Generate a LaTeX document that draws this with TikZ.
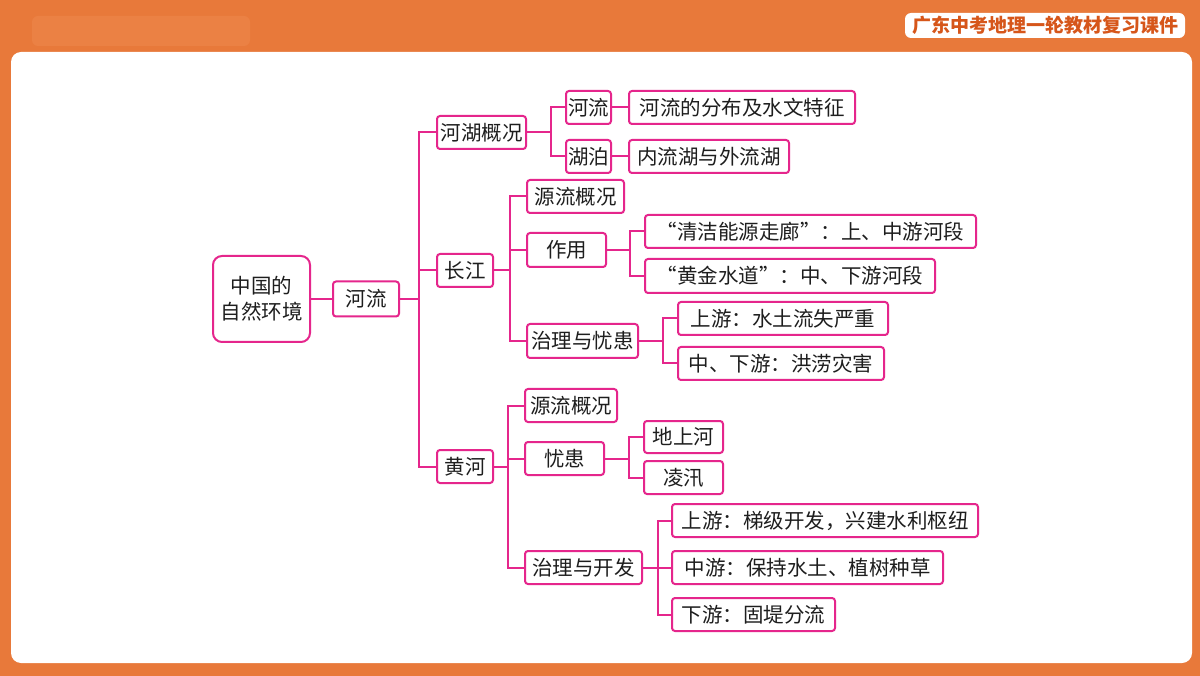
\documentclass[tikz,border=0pt]{standalone}
\usepackage{fontspec}
\newfontfamily\cjk{Noto Sans CJK SC}
\definecolor{bgor}{RGB}{232,121,58}
\definecolor{bglt}{RGB}{235,129,68}
\definecolor{pk}{RGB}{229,38,140}
\definecolor{tx}{RGB}{30,30,30}
\definecolor{ttl}{RGB}{214,86,26}
\tikzset{
  bx/.style={draw=pk, line width=2pt, rounded corners=3pt, fill=white, inner sep=0pt,
    text=tx, font=\cjk\fontsize{20.5}{25}\selectfont},
  ln/.style={draw=pk, line width=2pt},
}
\newcommand{\bxn}[6]{\node[bx, minimum width=#4pt, minimum height=#5pt] (#1) at (#2,#3) {#6};}
\begin{document}
\begin{tikzpicture}[x=1pt,y=-1pt]
\useasboundingbox (0,0) rectangle (1200,676);
\fill[bgor] (0,0) rectangle (1200,676);
\fill[bglt, rounded corners=6pt] (32,16) rectangle (250,46);
\fill[white, rounded corners=10pt] (11,52) rectangle (1192,663);
% title
\node[fill=white, rounded corners=6pt, minimum width=280pt, minimum height=25pt, inner sep=0pt,
  text=ttl, font=\cjk\bfseries\fontsize{19}{22}\selectfont] (title) at (1045,25.5) {广东中考地理一轮教材复习课件};
% nodes
\node[bx, rounded corners=9pt, minimum width=97pt, minimum height=86pt, align=center,
  font=\cjk\fontsize{20.5}{26}\selectfont] (root) at (261.5,299) {中国的\\自然环境};
\bxn{hl}{366}{299}{66}{35}{河流}
\bxn{hh}{481.5}{132.5}{89}{33}{河湖概况}
\bxn{cj}{465}{270.5}{56}{33}{长江}
\bxn{hhe}{465}{466.5}{56}{33}{黄河}
\bxn{hl2}{588.5}{107.5}{45}{33}{河流}
\bxn{hp}{588.5}{156.5}{45}{33}{湖泊}
\bxn{hlfb}{742}{107.5}{226}{33}{河流的分布及水文特征}
\bxn{nlh}{709}{156.5}{160}{33}{内流湖与外流湖}
\bxn{cj1}{575.5}{196.5}{97}{33}{源流概况}
\bxn{cj2}{566.5}{250}{79}{34}{作用}
\bxn{cj3}{582.5}{341}{111}{34}{治理与忧患}
\bxn{zy1}{810.5}{231.5}{331}{33}{“清洁能源走廊”：上、中游河段}
\bxn{zy2}{790}{276}{290}{34}{“黄金水道”：中、下游河段}
\bxn{zl1}{783}{318.5}{210}{33}{上游：水土流失严重}
\bxn{zl2}{781}{363.5}{206}{33}{中、下游：洪涝灾害}
\bxn{hh1}{571}{405.5}{92}{33}{源流概况}
\bxn{hh2}{564.5}{458.5}{79}{33}{忧患}
\bxn{hh3}{583.5}{567.5}{117}{33}{治理与开发}
\bxn{yh1}{683.5}{437}{79}{32}{地上河}
\bxn{yh2}{683.5}{477.5}{79}{33}{凌汛}
\bxn{kf1}{825}{520.5}{306}{33}{上游：梯级开发，兴建水利枢纽}
\bxn{kf2}{807.5}{567.5}{271}{33}{中游：保持水土、植树种草}
\bxn{kf3}{753.5}{614.5}{163}{33}{下游：固堤分流}
% connectors
\draw[ln] (root.east) -- (hl.west);
\draw[ln] (hl.east) -- ++(19,0) coordinate (t0);
\draw[ln] (t0) |- (hh.west);
\draw[ln] (t0) |- (cj.west);
\draw[ln] (t0) |- (hhe.west);
\draw[ln] (hh.east) -- ++(24,0) coordinate (t1);
\draw[ln] (t1) |- (hl2.west);
\draw[ln] (t1) |- (hp.west);
\draw[ln] (hl2.east) -- (hlfb.west);
\draw[ln] (hp.east) -- (nlh.west);
\draw[ln] (cj.east) -- ++(16,0) coordinate (t2);
\draw[ln] (t2) |- (cj1.west);
\draw[ln] (t2) |- (cj2.west);
\draw[ln] (t2) |- (cj3.west);
\draw[ln] (cj2.east) -- ++(23,0) coordinate (t3);
\draw[ln] (t3) |- (zy1.west);
\draw[ln] (t3) |- (zy2.west);
\draw[ln] (cj3.east) -- ++(24,0) coordinate (t4);
\draw[ln] (t4) |- (zl1.west);
\draw[ln] (t4) |- (zl2.west);
\draw[ln] (hhe.east) -- ++(14,0) coordinate (t5);
\draw[ln] (t5) |- (hh1.west);
\draw[ln] (t5) |- (hh2.west);
\draw[ln] (t5) |- (hh3.west);
\draw[ln] (hh2.east) -- ++(24,0) coordinate (t6);
\draw[ln] (t6) |- (yh1.west);
\draw[ln] (t6) |- (yh2.west);
\draw[ln] (hh3.east) -- ++(15,0) coordinate (t7);
\draw[ln] (t7) |- (kf1.west);
\draw[ln] (t7) |- (kf2.west);
\draw[ln] (t7) |- (kf3.west);
\end{tikzpicture}
\end{document}
